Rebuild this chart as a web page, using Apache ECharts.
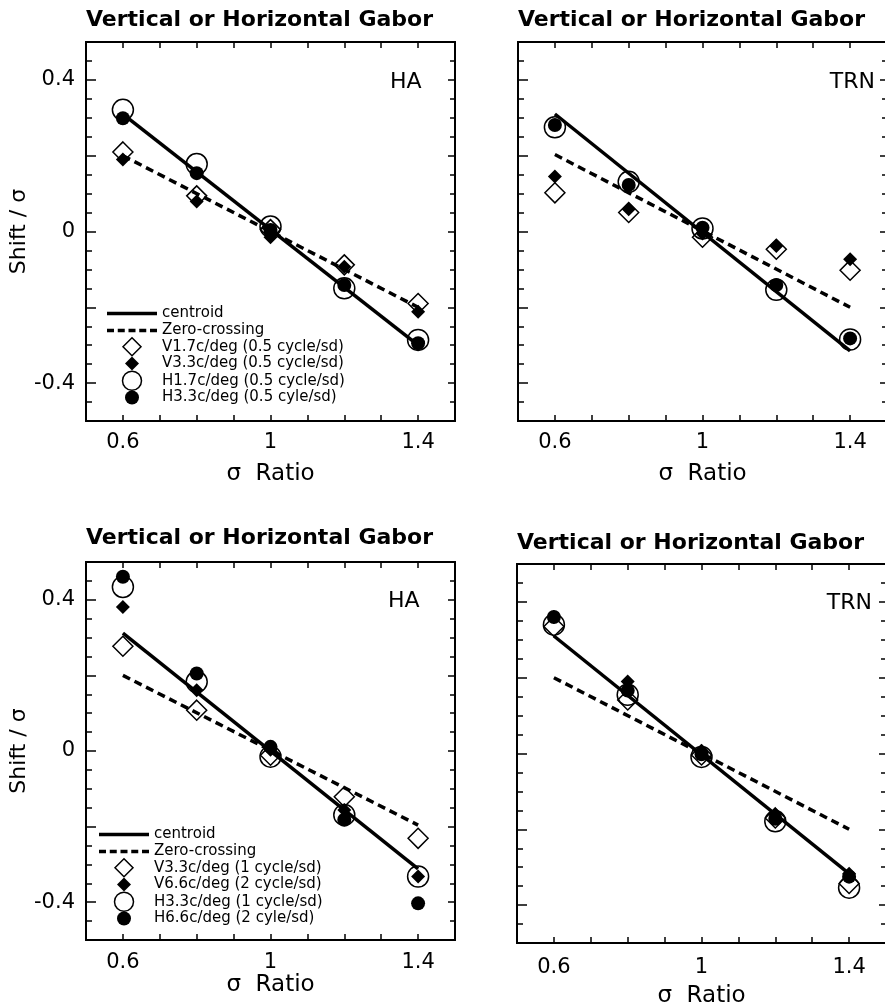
<!DOCTYPE html>
<html><head><meta charset="utf-8">
<script src="https://cdn.jsdelivr.net/npm/echarts@6/dist/echarts.min.js"></script>
<style>html,body{margin:0;padding:0;background:#fff}#c{width:885px;height:1008px}</style>
</head><body><div id="c"></div>
<script>
// ---------- data ----------
const sigmaRatio = [0.6, 0.8, 1.0, 1.2, 1.4];
const modelX = [0.6, 1.4];
const xTickLabels = [0.6, 1, 1.4];
const yTickLabels = [-0.4, 0, 0.4];
const yMajorTicks = [-0.4, -0.2, 0, 0.2, 0.4];

const panelTitle = 'Vertical or Horizontal Gabor';
const xName = 'σ  Ratio';
const yName = 'Shift / σ';
const lineNames = ['centroid', 'Zero-crossing'];
const namesTop = ['V1.7c/deg (0.5 cycle/sd)', 'V3.3c/deg (0.5 cycle/sd)', 'H1.7c/deg (0.5 cycle/sd)', 'H3.3c/deg (0.5 cyle/sd)'];
const namesBottom = ['V3.3c/deg (1 cycle/sd)', 'V6.6c/deg (2 cycle/sd)', 'H3.3c/deg (1 cycle/sd)', 'H6.6c/deg (2 cyle/sd)'];

// top-left: HA
const haTopCentroid = [0.31, -0.30];
const haTopZero = [0.20, -0.20];
const haTopVOpen = [0.21, 0.094, 0.005, -0.088, -0.19];
const haTopVFilled = [0.19, 0.079, -0.015, -0.093, -0.212];
const haTopHOpen = [0.321, 0.178, 0.013, -0.15, -0.286];
const haTopHFilled = [0.299, 0.154, 0.004, -0.141, -0.295];

// top-right: TRN
const trnTopCentroid = [0.31, -0.315];
const trnTopZero = [0.203, -0.20];
const trnTopVOpen = [0.102, 0.05, -0.015, -0.047, -0.102];
const trnTopVFilled = [0.145, 0.059, -0.005, -0.038, -0.073];
const trnTopHOpen = [0.275, 0.131, 0.008, -0.154, -0.285];
const trnTopHFilled = [0.281, 0.123, 0.01, -0.141, -0.282];

// bottom-left: HA
const haBotCentroid = [0.312, -0.312];
const haBotZero = [0.20, -0.196];
const haBotVOpen = [0.277, 0.108, -0.011, -0.121, -0.231];
const haBotVFilled = [0.381, 0.161, 0.003, -0.156, -0.332];
const haBotHOpen = [0.434, 0.183, -0.015, -0.169, -0.332];
const haBotHFilled = [0.461, 0.205, 0.011, -0.182, -0.403];

// bottom-right: TRN
const trnBotCentroid = [0.31, -0.317];
const trnBotZero = [0.20, -0.20];
const trnBotVOpen = [0.335, 0.141, -0.004, -0.17, -0.343];
const trnBotVFilled = [0.36, 0.19, 0.007, -0.161, -0.317];
const trnBotHOpen = [0.34, 0.155, -0.009, -0.179, -0.354];
const trnBotHFilled = [0.36, 0.166, -0.002, -0.172, -0.325];

// ---------- layout / styles ----------
const FONT = 'DejaVu Sans';
const panels = [
  {grid: {left: 86, top: 42, width: 369, height: 379}, titleTop: 9, tag: 'HA', tagPos: {left: 390, top: 71},
   labelMargin: 11, nameGap: 42, yLabels: true, names: namesTop,
   lines: [haTopCentroid, haTopZero], pts: [haTopVOpen, haTopVFilled, haTopHOpen, haTopHFilled],
   legend: {left: 107, rows: [312, 329, 346, 363, 380, 397]}},
  {grid: {left: 518, top: 42, width: 369, height: 379}, titleTop: 9, tag: 'TRN', tagPos: {right: 10, top: 71},
   labelMargin: 11, nameGap: 42, yLabels: false, names: namesTop,
   lines: [trnTopCentroid, trnTopZero], pts: [trnTopVOpen, trnTopVFilled, trnTopHOpen, trnTopHFilled]},
  {grid: {left: 86, top: 562, width: 369, height: 378}, titleTop: 527, tag: 'HA', tagPos: {left: 388, top: 590},
   labelMargin: 12, nameGap: 31, yLabels: true, names: namesBottom,
   lines: [haBotCentroid, haBotZero], pts: [haBotVOpen, haBotVFilled, haBotHOpen, haBotHFilled],
   legend: {left: 99, rows: [833, 850, 867, 884, 901, 918]}},
  {grid: {left: 517, top: 564, width: 369, height: 379}, titleTop: 532, tag: 'TRN', tagPos: {right: 13, top: 592},
   labelMargin: 14, nameGap: 42, yLabels: false, names: namesBottom,
   lines: [trnBotCentroid, trnBotZero], pts: [trnBotVOpen, trnBotVFilled, trnBotHOpen, trnBotHFilled]}
];
const OPEN = 'rgba(255,255,255,0)';
const DIAMOND = 'path://M10,0 L20,10 L10,20 L0,10 Z';
const markStyles = [
  {symbol: 'diamond', size: 20, fill: OPEN, icon: DIAMOND, iconH: 18, stroke: 1.5},
  {symbol: 'diamond', size: 14, fill: '#000', icon: DIAMOND, iconH: 14, stroke: 0},
  {symbol: 'circle', size: 21, fill: OPEN, icon: 'circle', iconH: 19, stroke: 1.5},
  {symbol: 'circle', size: 14, fill: '#000', icon: 'circle', iconH: 14, stroke: 0}
];
const lineTypes = ['solid', [8, 5]];
const lineIcons = [
  'path://M0,0 H50 V3.5 H0 Z',
  'path://M0,0 h7 v3.5 h-7 Z M10.75,0 h7 v3.5 h-7 Z M21.5,0 h7 v3.5 h-7 Z M32.25,0 h7 v3.5 h-7 Z M43,0 h7 v3.5 h-7 Z'
];

const fmt = v => String(+(+v).toFixed(2));
const axisLine = {show: true, onZero: false, lineStyle: {color: '#000', width: 2}};
const legendText = {fontSize: 15, color: '#000', fontFamily: FONT, lineHeight: 12};

const option = {
  animation: false,
  backgroundColor: '#fff',
  textStyle: {fontFamily: FONT, color: '#000'},
  title: [], legend: [], grid: [], xAxis: [], yAxis: [], series: []
};

panels.forEach((p, g) => {
  option.grid.push(Object.assign({outerBoundsMode: 'none', containLabel: false}, p.grid));
  option.title.push({text: panelTitle, left: p.grid.left, top: p.titleTop, padding: 0,
    textStyle: {fontFamily: FONT, fontWeight: 'bold', fontSize: 22, color: '#000'}});
  option.title.push(Object.assign({text: p.tag, padding: 0,
    textStyle: {fontFamily: FONT, fontWeight: 'normal', fontSize: 22, color: '#000'}}, p.tagPos));

  // x axes: bottom (labelled) and top (mirror)
  ['bottom', 'top'].forEach((pos, k) => {
    option.xAxis.push({
      gridIndex: g, type: 'value', position: pos, min: 0.5, max: 1.5, interval: 0.1,
      axisLine, splitLine: {show: false},
      axisTick: {show: true, inside: true, length: 6, lineStyle: {color: '#000', width: 1.5}},
      axisLabel: k === 0 ? {show: true, customValues: xTickLabels, formatter: fmt, margin: p.labelMargin,
        fontSize: 21, color: '#000', fontFamily: FONT} : {show: false},
      name: k === 0 ? xName : '', nameLocation: 'middle', nameGap: p.nameGap,
      nameTextStyle: {fontSize: 23, color: '#000', fontFamily: FONT}
    });
  });
  // y axes: left minor, left major, right minor, right major
  [['left', 6, false], ['left', 10, true], ['right', 5, false], ['right', 7, true]].forEach(([pos, len, major], k) => {
    const ax = {
      gridIndex: g, type: 'value', position: pos, min: -0.5, max: 0.5,
      axisLine, splitLine: {show: false},
      axisTick: {show: true, inside: true, length: len, lineStyle: {color: '#000', width: 1.5}},
      axisLabel: {show: false}
    };
    if (major) {
      ax.axisTick.customValues = yMajorTicks;
    } else {
      ax.interval = 0.05;
    }
    if (k === 1 && p.yLabels) {
      ax.axisLabel = {show: true, customValues: yTickLabels, formatter: fmt, margin: 11,
        fontSize: 21, color: '#000', fontFamily: FONT};
      ax.name = yName; ax.nameLocation = 'middle'; ax.nameGap = 44;
      ax.nameTextStyle = {fontSize: 22, color: '#000', fontFamily: FONT};
    }
    option.yAxis.push(ax);
  });

  const xi = 2 * g, yi = 4 * g + 1;
  p.lines.forEach((vals, k) => {
    option.series.push({
      type: 'line', name: lineNames[k], xAxisIndex: xi, yAxisIndex: yi,
      symbol: 'none', silent: true, emphasis: {disabled: true},
      lineStyle: {color: '#000', width: 3.5, type: lineTypes[k]},
      itemStyle: {color: '#000'},
      data: modelX.map((x, i) => [x, vals[i]])
    });
  });
  p.pts.forEach((vals, k) => {
    const m = markStyles[k];
    option.series.push({
      type: 'scatter', name: p.names[k], xAxisIndex: xi, yAxisIndex: yi,
      symbol: m.symbol, symbolSize: m.size, silent: true, emphasis: {disabled: true},
      itemStyle: {color: m.fill, borderColor: '#000', borderWidth: m.stroke || 0, opacity: 1},
      data: sigmaRatio.map((x, i) => [x, vals[i]])
    });
  });

  if (p.legend) {
    const L = p.legend.left, cx = L + 25;
    lineNames.forEach((nm, r) => {
      const ih = 12;
      option.legend.push({
        show: true, orient: 'vertical', left: L, top: p.legend.rows[r] - ih / 2,
        padding: 0, itemWidth: 50, itemHeight: ih, itemGap: 0, selectedMode: false,
        symbolKeepAspect: true,
        data: [{name: nm, icon: lineIcons[r], itemStyle: {color: '#000', borderWidth: 0}}],
        textStyle: legendText
      });
    });
    p.names.forEach((nm, k) => {
      const m = markStyles[k];
      const ih = m.iconH;
      option.legend.push({
        show: true, orient: 'vertical', left: cx - ih / 2 - m.stroke / 2, top: p.legend.rows[k + 2] - ih / 2,
        padding: 0, itemWidth: 50, itemHeight: ih, itemGap: 0, selectedMode: false,
        symbolKeepAspect: true,
        data: [{name: nm, icon: m.icon,
          itemStyle: {color: m.fill, borderColor: '#000', borderWidth: m.stroke}}],
        textStyle: legendText
      });
    });
  }
});

const chart = echarts.init(document.getElementById('c'), null, {renderer: 'canvas'});
chart.setOption(option);
</script>
</body></html>
